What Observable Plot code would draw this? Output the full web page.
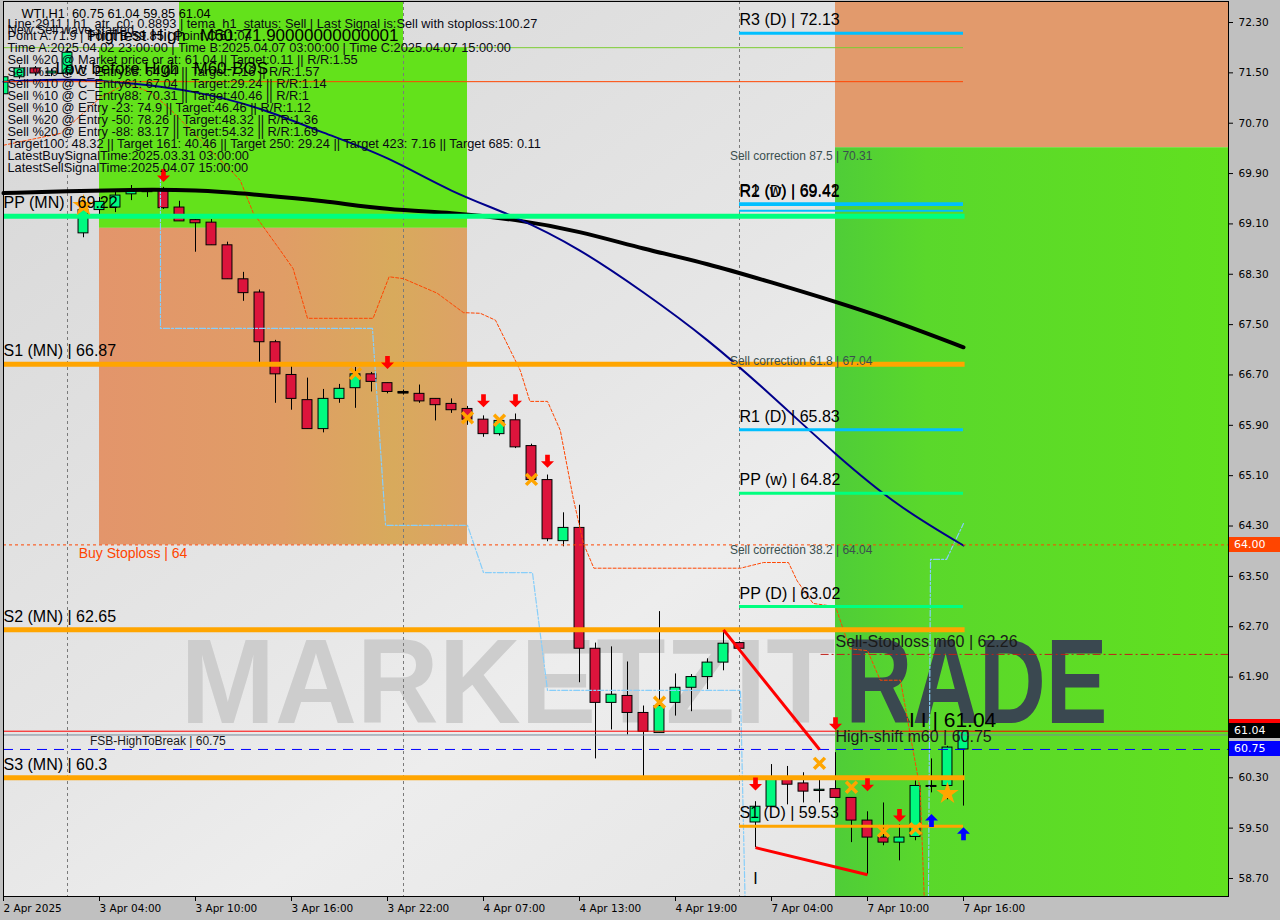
<!DOCTYPE html>
<html><head><meta charset="utf-8">
<script src="https://cdn.jsdelivr.net/npm/d3@7"></script>
<script src="https://cdn.jsdelivr.net/npm/@observablehq/plot@0.6"></script>
<style>
html,body{margin:0;padding:0;background:#c0c0c0;}
#wrap{position:relative;width:1280px;height:920px;overflow:hidden;background:#c0c0c0;}
#wrap svg.plot{position:absolute;left:0;top:0;}
.tag{position:absolute;left:1229px;width:51px;height:15px;color:#fff;font:11px "DejaVu Sans",sans-serif;line-height:15px;padding-left:5px;box-sizing:border-box;}
</style></head>
<body>
<svg width="0" height="0" style="position:absolute">
 <defs>
  <linearGradient id="gBg" x1="0" y1="0" x2="1" y2="1">
   <stop offset="0" stop-color="#d6d6d6"/><stop offset="0.45" stop-color="#e6e6e6"/>
   <stop offset="0.6" stop-color="#ededed"/><stop offset="1" stop-color="#e0e0e0"/>
  </linearGradient>
  <linearGradient id="gSalmon" x1="0" y1="0" x2="1" y2="0">
   <stop offset="0" stop-color="#e3956b"/><stop offset="0.5" stop-color="#e09d66"/>
   <stop offset="0.8" stop-color="#d8aa5c"/><stop offset="1" stop-color="#dda266"/>
  </linearGradient>
  <linearGradient id="gGreen" x1="0" y1="0" x2="1" y2="0">
   <stop offset="0" stop-color="#4fcd38"/><stop offset="0.15" stop-color="#5ad82b"/>
   <stop offset="1" stop-color="#66e617"/>
  </linearGradient>
 </defs>
</svg>
<div id="wrap"></div>
<script>
// ---------- DATA ----------
const barIdx = d3.range(61);
const openP  = [71.16,71.43,71.57,71.49,71.49,68.95,69.32,69.36,69.57,69.63,69.65,69.36,69.16,69.12,68.76,68.22,68.01,67.22,66.70,66.30,65.84,66.32,66.49,66.71,66.57,66.43,66.40,66.32,66.24,66.16,65.99,65.76,65.98,65.57,65.03,64.06,64.27,62.35,61.49,61.60,61.33,61.01,61.49,61.73,61.90,62.13,62.44,59.59,59.84,60.30,60.21,60.09,60.12,59.98,59.62,59.35,59.27,59.36,60.17,60.17,60.75];
const highP  = [71.48,71.62,71.60,71.56,71.90,69.45,69.52,69.60,69.71,69.65,69.68,69.46,69.17,69.17,68.81,68.33,68.05,67.25,66.84,66.65,66.47,66.55,66.82,66.74,66.57,66.46,66.54,66.32,66.32,66.20,66.05,66.00,66.08,65.60,65.11,64.51,64.63,62.44,62.38,62.14,61.44,62.94,61.95,61.94,62.19,62.65,62.46,59.92,60.51,60.48,60.38,60.30,60.70,59.98,59.76,59.90,59.55,60.25,60.60,60.80,61.04];
const lowP   = [71.10,71.40,71.45,71.44,71.45,68.88,69.25,69.28,69.47,69.52,69.33,69.14,68.65,68.76,68.22,67.87,66.90,66.25,66.14,65.84,65.78,66.25,66.17,66.43,66.40,66.38,66.25,65.97,66.09,65.90,65.71,65.73,65.53,65.03,64.05,63.97,61.81,60.60,61.06,60.98,60.27,61.01,61.28,61.35,61.70,62.00,62.33,59.19,59.84,59.87,59.90,59.90,59.98,59.27,58.76,59.22,58.98,59.30,60.06,59.95,59.85];
const closeP = [71.43,71.57,71.49,71.52,71.82,69.32,69.45,69.55,69.62,69.62,69.35,69.14,69.11,68.76,68.22,68.00,67.22,66.71,66.32,65.84,66.32,66.48,66.71,66.59,66.43,66.42,66.28,66.22,66.14,65.99,65.76,65.97,65.55,65.03,64.09,64.27,62.35,61.49,61.62,61.33,61.03,61.44,61.73,61.90,62.13,62.43,62.35,59.84,60.30,60.19,60.08,60.11,59.98,59.62,59.35,59.27,59.35,60.17,60.17,60.78,61.04];

const xTickIdx = [0,6,12,18,24,30,36,42,48,54,60];
const xTickLabels = ["2 Apr 2025","3 Apr 04:00","3 Apr 10:00","3 Apr 16:00","3 Apr 22:00","4 Apr 07:00","4 Apr 13:00","4 Apr 19:00","7 Apr 04:00","7 Apr 10:00","7 Apr 16:00"];
const yTicks = [58.70,59.50,60.30,61.10,61.90,62.70,63.50,64.30,65.10,65.90,66.70,67.50,68.30,69.10,69.90,70.70,71.50,72.30];
const xDomain = [0, 76.5625];
const yDomain = [58.4138, 72.6337];
const daySeparators = [4, 25, 46];

// zones (bar index span, price span)
const zoneX1 = [6, 11, 6, 52, 52];
const zoneX2 = [29, 25, 29, 90, 90];
const zoneY1 = [69.03, 71.90, 64.00, 70.31, 50];
const zoneY2 = [71.90, 80, 69.03, 80, 70.31];
const zoneFill = ["#63e21b", "#63e21b", "url(#gSalmon)", "#e29a6c", "url(#gGreen)"];

// moving averages (bar index, price)
const temaIdx = [0,4,8,12,16,20,24,28,32,36,40,44,48,52,56,60];
const temaVal = [69.59,69.62,69.64,69.63,69.56,69.46,69.34,69.27,69.16,68.97,68.71,68.46,68.17,67.86,67.52,67.14];
const maIdx = [0,4,8,12,16,20,24,28,32,36,40,44,48,52,56,60];
const maVal = [71.36,71.39,71.33,71.19,70.93,70.55,70.14,69.63,69.20,68.68,68.01,67.25,66.37,65.45,64.63,63.99];

// trailing stops
const orangeTrailIdx = [0,3.6,6.06,7.7,9.2,10.3,14.2,14.8,15.6,17.3,18.1,19.0,23.1,24.1,25.0,27.1,28.75,29.8,30.75,32.3,32.9,34.0,34.8,35.6,36.25,36.9,46.06,47.5,49.06,49.6,50.6,52.0,52.9,54.0,54.8,56.06,57.3,57.6];
const orangeTrailVal = [70.35,70.54,71.11,71.33,71.19,70.95,69.95,69.79,69.28,68.68,68.39,67.60,67.60,68.26,68.23,68.00,67.69,67.68,67.57,66.77,66.28,66.28,65.82,64.75,64.02,63.63,63.63,63.72,63.72,63.43,63.07,63.02,62.35,62.32,61.85,61.85,60.10,58.00];
const blueTrailIdx = [9.81,9.81,23.06,23.88,29.0,30.0,33.06,34.0,46.06,46.38,57.8,57.94,58.94,60.0];
const blueTrailVal = [69.87,67.44,67.44,64.31,64.31,63.56,63.56,61.69,61.69,58.00,58.00,63.77,63.77,64.34];

// pivot levels
const mnNames = ["PP (MN)","S1 (MN)","S2 (MN)","S3 (MN)"];
const mnValues = [69.22, 66.87, 62.65, 60.3];
const mnColors = ["#00ff7f","#ffa500","#ffa500","#ffa500"];
const dNames = ["R3 (D)","R2 (D)","R1 (w)","R1 (D)","PP (w)","PP (D)","S1 (D)"];
const dValues = [72.13, 69.41, 69.42, 65.83, 64.82, 63.02, 59.53];
const dColors = ["#00bfff","#00bfff","#00bfff","#00bfff","#00ff7f","#00ff7f","#ffa500"];
const corrPct = ["87.5","61.8","38.2"];
const corrValues = [70.31, 67.04, 64.04];

// other horizontal lines
const pointA = 71.90, lowBeforeHigh = 71.36, extraWeekly = 69.31;
const buyStoploss = 64, sellStoploss = 62.26, lastPrice = 61.04, bidLine = 60.98, fsbHigh = 60.75;

// trend lines
const trendFrom = [[45,62.65],[47,59.19]];
const trendTo   = [[51,60.75],[54,58.76]];

// signals
const sellArrowIdx = [10,24,30,32,34,47,52,54,56];
const sellArrowVal = [69.87,66.90,66.29,66.29,65.33,60.20,61.16,60.19,59.70];
const buyArrowIdx = [58,60];
const buyArrowVal = [59.62,59.41];
const crossIdx = [22,29,31,33,41,51,53,55,57];
const crossVal = [66.72,66.02,65.98,65.04,61.50,60.53,60.15,59.45,59.49];
const starIdx = [5,59];
const starVal = [69.39,60.05];

// info panel texts
const headerText = "WTI,H1  60.75 61.04 59.85 61.04";
const infoLines = [
 "Line:2911 | h1_atr_c0: 0.8893 | tema_h1_status: Sell | Last Signal is:Sell with stoploss:100.27",
 "Point A:71.9 | Point B:59.85 | Point C:61.04",
 "Time A:2025.04.02 23:00:00 | Time B:2025.04.07 03:00:00 | Time C:2025.04.07 15:00:00",
 "Sell %20 @ Market price or at: 61.04 || Target:0.11 || R/R:1.55",
 "Sell %10 @ C_Entry38: 64.04 || Target:7.16 || R/R:1.57",
 "Sell %10 @ C_Entry61: 67.04 || Target:29.24 || R/R:1.14",
 "Sell %10 @ C_Entry88: 70.31 || Target:40.46 || R/R:1",
 "Sell %10 @ Entry -23: 74.9 || Target:46.46 || R/R:1.12",
 "Sell %20 @ Entry -50: 78.26 || Target:48.32 || R/R:1.36",
 "Sell %20 @ Entry -88: 83.17 || Target:54.32 || R/R:1.69",
 "Target100: 48.32 || Target 161: 40.46 || Target 250: 29.24 || Target 423: 7.16 || Target 685: 0.11",
 "LatestBuySignalTime:2025.03.31 03:00:00",
 "LatestSellSignalTime:2025.04.07 15:00:00"
];
const waveText = "New Sell wave started";
const highestText = "Highest High   M60: 71.90000000000001";
const lowBeforeText = "Low before High   M60-BOS";
const tagValues = [64.00, 61.04, 60.75];
const tagColors = ["#ff4500", "#000000", "#0000ff"];

// ---------- BUILD ----------
const candles = barIdx.map(i => ({i, o: openP[i], h: highP[i], l: lowP[i], c: closeP[i]}));
const zones = zoneX1.map((x1, k) => ({x1, x2: zoneX2[k], y1: zoneY1[k], y2: zoneY2[k], fill: zoneFill[k]}));
const tema = temaIdx.map((i, k) => ({i, v: temaVal[k]}));
const ma = maIdx.map((i, k) => ({i, v: maVal[k]}));
const oTrail = orangeTrailIdx.map((i, k) => ({i, v: orangeTrailVal[k]}));
const bTrail = blueTrailIdx.map((i, k) => ({i, v: blueTrailVal[k]}));
const mnLevels = mnNames.map((n, k) => ({label: `${n} | ${mnValues[k]}`, v: mnValues[k], c: mnColors[k], from: -1, to: 60.1, lx: 0}));
const dLevels = dNames.map((n, k) => ({label: `${n} | ${dValues[k]}`, v: dValues[k], c: dColors[k], from: 46, to: 60, lx: 46}));
const corrs = corrPct.map((p, k) => ({label: `Sell correction ${p} | ${corrValues[k]}`, v: corrValues[k]}));
const trends = trendFrom.map((f, k) => ({x1: f[0], y1: f[1], x2: trendTo[k][0], y2: trendTo[k][1]}));
const sells = sellArrowIdx.map((i, k) => ({i, v: sellArrowVal[k]}));
const buys = buyArrowIdx.map((i, k) => ({i, v: buyArrowVal[k]}));
const crosses = crossIdx.map((i, k) => ({i, v: crossVal[k]}));
const stars = starIdx.map((i, k) => ({i, v: starVal[k]}));

const downArrow = {draw(ctx, size){const r=Math.sqrt(size/Math.PI), w=r*0.36;
  ctx.moveTo(-w,-r); ctx.lineTo(w,-r); ctx.lineTo(w,0); ctx.lineTo(r,0); ctx.lineTo(0,r); ctx.lineTo(-r,0); ctx.lineTo(-w,0); ctx.closePath();}};
const upArrow = {draw(ctx, size){const r=Math.sqrt(size/Math.PI), w=r*0.36;
  ctx.moveTo(-w,r); ctx.lineTo(w,r); ctx.lineTo(w,0); ctx.lineTo(r,0); ctx.lineTo(0,-r); ctx.lineTo(-r,0); ctx.lineTo(-w,0); ctx.closePath();}};

const F = "Liberation Sans, Arial, sans-serif";
const AX = "DejaVu Sans, sans-serif";

const chart = Plot.plot({
  width: 1280, height: 920,
  marginLeft: 3, marginRight: 52, marginTop: 1, marginBottom: 24,
  style: {background: "transparent", fontFamily: F},
  x: {domain: xDomain},
  y: {domain: yDomain},
  marks: [
    Plot.frame({fill: "url(#gBg)", stroke: null}),
    Plot.rect(zones, {x1: "x1", x2: "x2", y1: "y1", y2: "y2", fill: d => d.fill, clip: true}),
    // watermark
    Plot.text(["MARKETZIT"], {frameAnchor: "top-left", dx: 177, dy: 683, lineAnchor: "middle", textAnchor: "start", fontSize: 120, fontWeight: "bold", fill: "#cdcdcd", className: "wm1"}),
    Plot.text(["RADE"], {frameAnchor: "top-left", dx: 842, dy: 683, lineAnchor: "middle", textAnchor: "start", fontSize: 120, fontWeight: "bold", fill: "#3a4850", className: "wm2"}),
    Plot.ruleX(daySeparators, {stroke: "#7a7a7a", strokeDasharray: "3,3", strokeWidth: 1}),
    // candles
    Plot.ruleX(candles, {x: "i", y1: "l", y2: "h", stroke: "#000", strokeWidth: 1, clip: true}),
    Plot.rect(candles, {x1: d => d.i - 0.31, x2: d => d.i + 0.31, y1: "o", y2: "c", fill: d => d.c >= d.o ? "#00fa80" : "#dc143c", stroke: "#000", strokeWidth: 1, clip: true}),
    Plot.ruleY(candles.filter(d => Math.abs(d.c - d.o) < 0.015), {y: "c", x1: d => d.i - 0.34, x2: d => d.i + 0.34, stroke: "#000", strokeWidth: 2}),
    // trailing stops
    Plot.line(bTrail, {x: "i", y: "v", stroke: "#87cefa", strokeWidth: 1.2, strokeDasharray: "6,2,2,2", clip: true}),
    Plot.line(oTrail, {x: "i", y: "v", stroke: "#ff4500", strokeWidth: 1, strokeDasharray: "3,2", clip: true}),
    // moving averages
    Plot.line(tema, {x: "i", y: "v", stroke: "#000", strokeWidth: 4, curve: "natural"}),
    Plot.line(ma, {x: "i", y: "v", stroke: "#00008b", strokeWidth: 2, curve: "natural"}),
    // thin horizontal lines
    Plot.ruleY([pointA], {x1: -1, x2: 60, stroke: "#7ccd32", strokeWidth: 1, clip: true}),
    Plot.ruleY([lowBeforeHigh], {x1: -1, x2: 60, stroke: "#ff4500", strokeWidth: 1, clip: true}),
    Plot.ruleY([buyStoploss], {stroke: "#ff4500", strokeWidth: 1, strokeDasharray: "3,3"}),
    Plot.ruleY([sellStoploss], {x1: 51.1, x2: 90, stroke: "#c0201a", strokeWidth: 1, strokeDasharray: "8,3,2,3", clip: true}),
    Plot.ruleY([lastPrice], {stroke: "#ff0000", strokeWidth: 1}),
    Plot.ruleY([bidLine], {stroke: "#778899", strokeWidth: 1}),
    Plot.ruleY([fsbHigh], {stroke: "#0000ff", strokeWidth: 1, strokeDasharray: "10,7"}),
    // pivot levels
    Plot.ruleY([extraWeekly], {x1: 46, x2: 60, stroke: "#00bfff", strokeWidth: 2}),
    Plot.ruleY(dLevels, {y: "v", x1: "from", x2: "to", stroke: d => d.c, strokeWidth: 3}),
    Plot.ruleY(mnLevels, {y: "v", x1: "from", x2: "to", stroke: d => d.c, strokeWidth: 5, clip: true}),
    // trend lines
    Plot.link(trends, {x1: "x1", y1: "y1", x2: "x2", y2: "y2", stroke: "#ff0000", strokeWidth: 3}),
    // signals
    Plot.dot(sells, {x: "i", y: "v", symbol: downArrow, r: 6.5, fill: "#ff0000", stroke: null}),
    Plot.dot(buys, {x: "i", y: "v", symbol: upArrow, r: 6.5, fill: "#0000ff", stroke: null}),
    Plot.dot(crosses, {x: "i", y: "v", symbol: "times", r: 5, stroke: "#ffa500", strokeWidth: 3.5}),
    Plot.dot(stars, {x: "i", y: "v", symbol: "star", r: 7, fill: "#ffa500", stroke: null}),
    // labels
    Plot.text(mnLevels, {x: "lx", y: "v", text: "label", textAnchor: "start", dy: -13, fontSize: 16, fill: "#000"}),
    Plot.text(dLevels, {x: "lx", y: "v", text: "label", textAnchor: "start", dy: -13, fontSize: 16, fill: "#000"}),
    Plot.text(corrs, {x: 45.4, y: "v", text: "label", textAnchor: "start", dy: 8, fontSize: 12, fill: "#3b4f4f"}),
    Plot.text([`Buy Stoploss | ${buyStoploss}`], {x: 4.7, y: buyStoploss, textAnchor: "start", dy: 9, fontSize: 14, fill: "#ff4500"}),
    Plot.text([`FSB-HighToBreak | ${fsbHigh}`], {x: 5.4, y: fsbHigh, textAnchor: "start", dy: -8, fontSize: 12, fill: "#1a1a1a"}),
    Plot.text([`Sell-Stoploss m60 | ${sellStoploss}`], {x: 52, y: sellStoploss, textAnchor: "start", dy: -13, fontSize: 16, fill: "#1a1a1a"}),
    Plot.text([`High-shift m60 | ${fsbHigh}`], {x: 52, y: fsbHigh, textAnchor: "start", dy: -13, fontSize: 16, fill: "#1a1a1a"}),
    Plot.text([`I I | ${lastPrice}`], {x: 56.6, y: lastPrice, textAnchor: "start", dy: -11, fontSize: 21, fill: "#000"}),
    Plot.text(["I"], {x: 47, y: 58.70, fontSize: 16, fill: "#000"}),
    // info panel
    Plot.text([headerText], {frameAnchor: "top-left", dx: 18, dy: 12, lineAnchor: "middle", textAnchor: "start", fontSize: 12.8, fill: "#000"}),
    Plot.text([infoLines.join("\n")], {frameAnchor: "top-left", dx: 4, dy: 18, lineAnchor: "top", lineHeight: 0.9375, textAnchor: "start", fontSize: 12.8, fill: "#0a0a14"}),
    Plot.text([waveText], {frameAnchor: "top-left", dx: 4, dy: 28, lineAnchor: "middle", textAnchor: "start", fontSize: 12.8, fill: "#0a0a14"}),
    Plot.text([highestText], {frameAnchor: "top-left", dx: 85, dy: 34, lineAnchor: "middle", textAnchor: "start", fontSize: 17, fill: "#000"}),
    Plot.text([lowBeforeText], {frameAnchor: "top-left", dx: 52, dy: 67, lineAnchor: "middle", textAnchor: "start", fontSize: 17, fill: "#000"}),
    // axes
    Plot.axisY({anchor: "right", ticks: yTicks, tickFormat: d => d.toFixed(2), tickSize: 4, tickPadding: 6, fontSize: 10.5, fontFamily: AX, label: null}),
    Plot.axisX({anchor: "bottom", ticks: xTickIdx, tickFormat: d => xTickLabels[xTickIdx.indexOf(d)], textAnchor: "start", tickSize: 5, tickPadding: 3, fontSize: 10.5, fontFamily: AX, label: null}),
    Plot.frame({stroke: "#000", strokeWidth: 1})
  ]
});
const wrap = document.getElementById("wrap");
chart.classList.add("plot");
wrap.appendChild(chart);
d3.select(chart).select("g.wm1 text").attr("textLength", 655).attr("lengthAdjust", "spacingAndGlyphs");
d3.select(chart).select("g.wm2 text").attr("textLength", 262).attr("lengthAdjust", "spacingAndGlyphs");

const ys = chart.scale("y");
const red = document.createElement("div");
red.className = "tag"; red.style.height = "5px"; red.style.background = "#ff0000";
red.style.top = (ys.apply(lastPrice) - 12) + "px"; wrap.appendChild(red);
tagValues.forEach((v, k) => {
  const div = document.createElement("div");
  div.className = "tag";
  div.style.top = (ys.apply(v) - 7.5) + "px";
  div.style.background = tagColors[k];
  div.textContent = v.toFixed(2);
  wrap.appendChild(div);
});
</script>
</body></html>
